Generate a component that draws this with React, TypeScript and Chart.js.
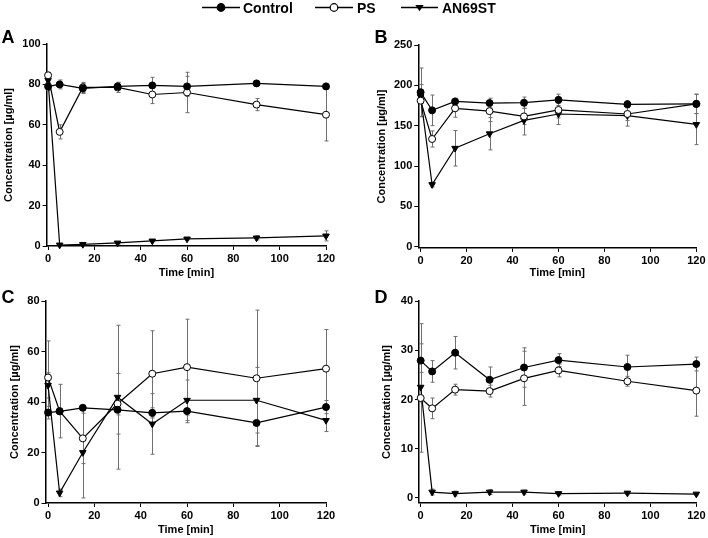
import React, { useEffect, useRef } from "react";
import { Chart, registerables } from "chart.js";

Chart.register(...registerables);

// ---------- data ----------
const TIME = [0, 5, 15, 30, 45, 60, 90, 120];
const X_TICKS = [0, 20, 40, 60, 80, 100, 120];
const SERIES_NAMES = ["Control", "PS", "AN69ST"];

// Panel A
const A_CONTROL = [79, 80, 78, 79, 79.5, 79, 80.5, 79];
const A_CONTROL_SD = [2, 2.2, 2.5, 2, 4, 5, 1, 1.5];
const A_PS = [84.5, 56.5, 78.5, 78.5, 75, 76, 70, 65];
const A_PS_SD = [1.5, 3.5, 2.5, 2.5, 4.5, 10, 3, 13];
const A_AN = [82, 0.5, 0.8, 1.5, 2.5, 3.5, 4, 5];
const A_AN_SD = [3, 0.3, 0.3, 0.5, 0.5, 0.5, 1, 2.5];
const A_Y_TICKS = [0, 20, 40, 60, 80, 100];

// Panel B
const B_CONTROL = [191.5, 169, 180, 178, 178.5, 182, 176.5, 177];
const B_CONTROL_SD = [30, 19, 4, 6, 7, 7, 4.5, 12];
const B_PS = [181, 133.5, 171.5, 168, 161.5, 169.5, 164.5, 177];
const B_PS_SD = [20, 10, 11, 13, 10, 10, 8, 12];
const B_AN = [186, 77, 122, 140, 156.5, 164.5, 162.5, 151.5];
const B_AN_SD = [8, 3, 22, 20, 18, 13, 13, 25];
const B_Y_TICKS = [0, 50, 100, 150, 200, 250];

// Panel C
const C_CONTROL = [35.8, 36.3, 37.7, 36.9, 35.7, 36.4, 31.7, 38];
const C_CONTROL_SD = [2.5, 1, 1, 2, 2, 4.6, 9, 2.6];
const C_PS = [49.7, 36.4, 25.6, 39.3, 51.2, 53.8, 49.4, 53.2];
const C_PS_SD = [14.5, 10.6, 10, 12, 17, 19, 27, 15.5];
const C_AN = [46.6, 4, 20, 41.9, 31.3, 40.7, 40.7, 32.7];
const C_AN_SD = [5, 1.5, 18, 28.5, 12, 8, 13, 4.4];
const C_Y_TICKS = [0, 20, 40, 60, 80];

// Panel D
const D_CONTROL = [27.9, 25.7, 29.5, 24, 26.5, 28, 26.6, 27.2];
const D_CONTROL_SD = [7.5, 2.2, 3.3, 2.6, 4, 1.3, 2.4, 1.4];
const D_PS = [20.3, 18.2, 22, 21.7, 24.3, 25.9, 23.7, 21.8];
const D_PS_SD = [11, 2.1, 1.1, 1.2, 5.5, 1.3, 1, 5.2];
const D_AN = [22.5, 1.2, 0.9, 1.2, 1.2, 0.9, 1, 0.8];
const D_AN_SD = [3, 0.6, 0.5, 0.5, 0.4, 0.3, 0.3, 0.2];
const D_Y_TICKS = [0, 10, 20, 30, 40];

const X_TITLE = "Time [min]";
const Y_TITLE = "Concentration [µg/ml]";

// ---------- layout / style ----------
const FONT = "'Liberation Sans', Arial, Helvetica, sans-serif";

type PanelCfg = {
  letter: string;
  values: number[][];
  errors: number[][];
  yTicks: number[];
  yMin: number;
  yMax: number;
  xMin: number;
  left: number;
  top: number;
  width: number;
  height: number;
  yAxisWidth: number;
  xAxisHeight: number;
  padTop: number;
  padRight: number;
  yTitlePad: number;
  xTitlePad: number;
};

const PANELS: PanelCfg[] = [
  {
    letter: "A",
    values: [A_CONTROL, A_PS, A_AN],
    errors: [A_CONTROL_SD, A_PS_SD, A_AN_SD],
    yTicks: A_Y_TICKS, yMin: 0, yMax: 100, xMin: -0.6,
    left: 0, top: 26, width: 354, height: 258,
    yAxisWidth: 46.7, xAxisHeight: 38, padTop: 18, padRight: 28,
    yTitlePad: 2.7, xTitlePad: 4.4,
  },
  {
    letter: "B",
    values: [B_CONTROL, B_PS, B_AN],
    errors: [B_CONTROL_SD, B_PS_SD, B_AN_SD],
    yTicks: B_Y_TICKS, yMin: -1.5, yMax: 250, xMin: -1,
    left: 354, top: 26, width: 354, height: 258,
    yAxisWidth: 64.3, xAxisHeight: 36.1, padTop: 19, padRight: 10,
    yTitlePad: 21.7, xTitlePad: 4.4,
  },
  {
    letter: "C",
    values: [C_CONTROL, C_PS, C_AN],
    errors: [C_CONTROL_SD, C_PS_SD, C_AN_SD],
    yTicks: C_Y_TICKS, yMin: 0, yMax: 80, xMin: -1.1,
    left: 0, top: 284, width: 354, height: 254,
    yAxisWidth: 45.5, xAxisHeight: 35, padTop: 17, padRight: 28,
    yTitlePad: 8.4, xTitlePad: 1.7,
  },
  {
    letter: "D",
    values: [D_CONTROL, D_PS, D_AN],
    errors: [D_CONTROL_SD, D_PS_SD, D_AN_SD],
    yTicks: D_Y_TICKS, yMin: -1, yMax: 40, xMin: -0.73,
    left: 354, top: 284, width: 354, height: 254,
    yAxisWidth: 65, xAxisHeight: 35.1, padTop: 17, padRight: 9,
    yTitlePad: 26.7, xTitlePad: 1.7,
  },
];

const errorBarPlugin = {
  id: "errorBars",
  beforeDatasetsDraw(chart: any) {
    const { ctx } = chart;
    const xs = chart.scales.x;
    const ys = chart.scales.y;
    ctx.save();
    ctx.strokeStyle = "#6f6f6f";
    ctx.lineWidth = 1;
    chart.data.datasets.forEach((ds: any) => {
      const errs: number[] = ds.errors || [];
      ds.data.forEach((pt: any, i: number) => {
        const e = errs[i];
        if (!e) return;
        const x = Math.round(xs.getPixelForValue(pt.x)) + 0.5;
        const y1 = ys.getPixelForValue(pt.y + e);
        const y2 = ys.getPixelForValue(pt.y - e);
        ctx.beginPath();
        ctx.moveTo(x, y1);
        ctx.lineTo(x, y2);
        ctx.moveTo(x - 2, y1);
        ctx.lineTo(x + 2, y1);
        ctx.moveTo(x - 2, y2);
        ctx.lineTo(x + 2, y2);
        ctx.stroke();
      });
    });
    ctx.restore();
  },
};

const POINT_STYLES = [
  { pointStyle: "circle", pointRadius: 3.5, pointBackgroundColor: "#000", pointRotation: 0 },
  { pointStyle: "circle", pointRadius: 3.5, pointBackgroundColor: "#fff", pointRotation: 0 },
  { pointStyle: "triangle", pointRadius: 3.8, pointBackgroundColor: "#000", pointRotation: 180 },
];

function Panel({ cfg }: { cfg: PanelCfg }) {
  const ref = useRef<HTMLCanvasElement | null>(null);
  useEffect(() => {
    if (!ref.current) return;
    const tickFont = { family: FONT, size: 11, weight: "bold" as const };
    const chart = new Chart(ref.current, {
      type: "line",
      data: {
        datasets: cfg.values.map((vals, si) => ({
          label: SERIES_NAMES[si],
          data: TIME.map((t, i) => ({ x: t, y: vals[i] })),
          errors: cfg.errors[si],
          borderColor: "#000",
          borderWidth: 1.2,
          pointBorderColor: "#000",
          pointBorderWidth: 1,
          ...POINT_STYLES[si],
          tension: 0,
          clip: false,
        })) as any,
      },
      options: {
        responsive: false,
        animation: false,
        devicePixelRatio: 1,
        layout: { padding: { top: cfg.padTop, right: cfg.padRight, left: 0, bottom: 0 } },
        plugins: { legend: { display: false }, tooltip: { enabled: false } },
        scales: {
          x: {
            type: "linear",
            min: cfg.xMin,
            max: 120,
            afterBuildTicks: (s: any) => {
              s.ticks = X_TICKS.map((v) => ({ value: v }));
            },
            afterFit: (s: any) => {
              s.height = cfg.xAxisHeight;
            },
            grid: { display: true, drawOnChartArea: false, drawTicks: true, tickLength: 4, color: "#000", lineWidth: 1 },
            border: { display: true, color: "#000", width: 1.5 },
            ticks: { color: "#000", font: tickFont, padding: 2.5, maxRotation: 0, autoSkip: false },
            title: { display: true, text: X_TITLE, color: "#000", font: tickFont, padding: { top: 0, bottom: cfg.xTitlePad } },
          },
          y: {
            type: "linear",
            min: cfg.yMin,
            max: cfg.yMax,
            afterBuildTicks: (s: any) => {
              s.ticks = cfg.yTicks.map((v) => ({ value: v }));
            },
            afterFit: (s: any) => {
              s.width = cfg.yAxisWidth;
            },
            grid: { display: true, drawOnChartArea: false, drawTicks: true, tickLength: 4, color: "#000", lineWidth: 1 },
            border: { display: true, color: "#000", width: 1.5 },
            ticks: { color: "#000", font: tickFont, padding: 2 },
            title: { display: true, text: Y_TITLE, color: "#000", font: tickFont, padding: { top: cfg.yTitlePad, bottom: 0 } },
          },
        },
      } as any,
      plugins: [errorBarPlugin],
    });
    return () => chart.destroy();
  }, [cfg]);
  return (
    <canvas
      ref={ref}
      width={cfg.width}
      height={cfg.height}
      style={{ position: "absolute", left: cfg.left, top: cfg.top, width: cfg.width, height: cfg.height }}
    />
  );
}

// legend geometry (page px)
const LEGEND_ITEMS = [
  { x1: 202, x2: 240, tx: 243, kind: 0 },
  { x1: 315, x2: 353, tx: 357, kind: 1 },
  { x1: 401, x2: 438, tx: 442, kind: 2 },
];
const LETTERS = [
  { t: "A", x: 1.5, y: 43 },
  { t: "B", x: 374.5, y: 43 },
  { t: "C", x: 1.5, y: 303 },
  { t: "D", x: 374.5, y: 303 },
];

function Marker({ kind, cx, cy }: { kind: number; cx: number; cy: number }) {
  if (kind === 2) {
    const r = 4.2;
    return <polygon points={`${cx - r},${cy - r * 0.6} ${cx + r},${cy - r * 0.6} ${cx},${cy + r * 0.9}`} fill="#000" />;
  }
  return <circle cx={cx} cy={cy} r={3.8} fill={kind === 0 ? "#000" : "#fff"} stroke="#000" strokeWidth={1.2} />;
}

export default function App() {
  return (
    <div style={{ position: "fixed", left: 0, top: 0, width: 708, height: 538, background: "#fff", overflow: "hidden" }}>
      {PANELS.map((p) => (
        <Panel key={p.letter} cfg={p} />
      ))}
      <svg width={708} height={538} style={{ position: "absolute", left: 0, top: 0, pointerEvents: "none" }}>
        {LEGEND_ITEMS.map((it, i) => (
          <g key={i}>
            <line x1={it.x1} x2={it.x2} y1={7.5} y2={7.5} stroke="#000" strokeWidth={1.5} />
            <Marker kind={it.kind} cx={(it.x1 + it.x2) / 2} cy={7.5} />
            <text x={it.tx} y={12.5} fontFamily={FONT} fontWeight="bold" fontSize={14} fill="#000">
              {SERIES_NAMES[it.kind]}
            </text>
          </g>
        ))}
        {LETTERS.map((l) => (
          <text key={l.t} x={l.x} y={l.y} fontFamily={FONT} fontWeight="bold" fontSize={18} fill="#000">
            {l.t}
          </text>
        ))}
      </svg>
    </div>
  );
}
